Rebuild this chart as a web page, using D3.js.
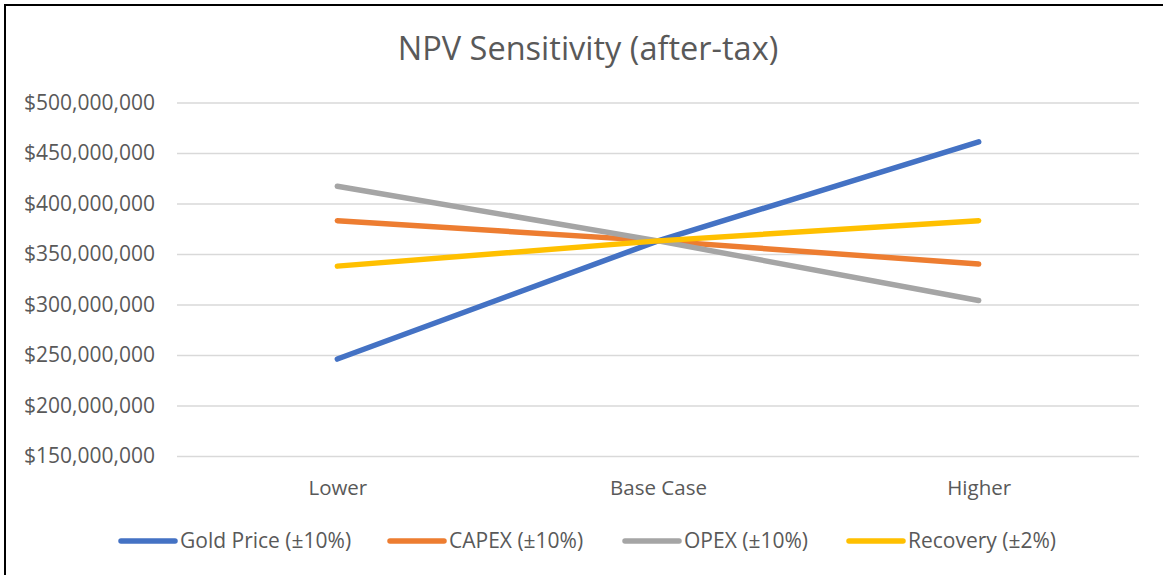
<!DOCTYPE html>
<html>
<head>
<meta charset="utf-8">
<script src="https://cdn.jsdelivr.net/npm/d3@7"></script>
<style>
  body { margin: 0; background: #fff; }
  text { font-family: "Open Sans", "Noto Sans", sans-serif; fill: #595959; }
</style>
</head>
<body>
<figure style="margin:0"></figure>
<script>
const categories = ['Lower', 'Base Case', 'Higher'];
const seriesNames = ['Gold Price (±10%)', 'CAPEX (±10%)', 'OPEX (±10%)', 'Recovery (±2%)'];
const goldPrice = [246000000, 363000000, 461000000];
const capex = [383000000, 363000000, 340000000];
const opex = [417000000, 363000000, 304000000];
const recovery = [338000000, 363000000, 383000000];
const yTicks = [150000000, 200000000, 250000000, 300000000, 350000000, 400000000, 450000000, 500000000];
const colors = ['#4472C4', '#ED7D31', '#A5A5A5', '#FFC000'];

(() => {
  const totalWidth = 1163;
  const totalHeight = 575;
  const margin = {top: 102.5, right: 24, bottom: 119, left: 177};
  const graphWidth = totalWidth - margin.left - margin.right;
  const graphHeight = totalHeight - margin.top - margin.bottom;

  const svg = d3.select('figure').append('svg')
    .attr('width', totalWidth)
    .attr('height', totalHeight);

  // outer border (runs off the right and bottom edges)
  svg.append('rect')
    .attr('x', 5).attr('y', 5)
    .attr('width', totalWidth + 10).attr('height', totalHeight + 10)
    .attr('fill', 'none')
    .attr('stroke', '#000')
    .attr('stroke-width', 2);

  svg.append('text')
    .attr('x', 588).attr('y', 60)
    .attr('text-anchor', 'middle')
    .style('font-size', '32.5px')
    .text('NPV Sensitivity (after-tax)');

  const g = svg.append('g').attr('transform', 'translate(' + margin.left + ',' + margin.top + ')');

  const x = d3.scalePoint()
    .domain(categories)
    .range([0, graphWidth])
    .padding(0.5);

  const y = d3.scaleLinear()
    .domain([150000000, 500000000])
    .range([graphHeight, 0]);

  const fmt = d3.format('$,.0f');

  // gridlines
  g.append('g')
    .call(d3.axisLeft(y).tickValues(yTicks).tickSize(-graphWidth).tickFormat(''))
    .call(s => s.select('.domain').remove())
    .call(s => s.selectAll('line').attr('stroke', '#D9D9D9').attr('stroke-width', 1.5));

  // y labels
  g.append('g')
    .call(d3.axisLeft(y).tickValues(yTicks).tickSize(0).tickPadding(22).tickFormat(fmt))
    .call(s => s.select('.domain').remove())
    .call(s => s.selectAll('text').style('font-size', '21px').attr('fill', '#595959').style('font-family', '"Open Sans", sans-serif'));

  // x labels
  g.append('g')
    .attr('transform', 'translate(0,' + graphHeight + ')')
    .call(d3.axisBottom(x).tickSize(0).tickPadding(24))
    .call(s => s.select('.domain').remove())
    .call(s => s.selectAll('text').style('font-size', '20.5px').attr('fill', '#595959').style('font-family', '"Open Sans", sans-serif'));

  const series = [goldPrice, capex, opex, recovery];
  const line = d3.line()
    .x((d, i) => x(categories[i]))
    .y(d => y(d));

  series.forEach((vals, k) => {
    g.append('path')
      .datum(vals)
      .attr('fill', 'none')
      .attr('stroke', colors[k])
      .attr('stroke-width', 5.5)
      .attr('stroke-linecap', 'round')
      .attr('d', line);
  });

  // legend
  const legendX = [121, 390, 625, 849];
  const legend = svg.append('g').attr('transform', 'translate(0,541)');
  seriesNames.forEach((name, k) => {
    legend.append('line')
      .attr('x1', legendX[k]).attr('x2', legendX[k] + 54)
      .attr('y1', 0).attr('y2', 0)
      .attr('stroke', colors[k])
      .attr('stroke-width', 5.5)
      .attr('stroke-linecap', 'round');
    legend.append('text')
      .attr('x', legendX[k] + 59)
      .attr('y', 0)
      .attr('dy', '0.35em')
      .style('font-size', '21px')
      .text(name);
  });
})();
</script>
</body>
</html>
